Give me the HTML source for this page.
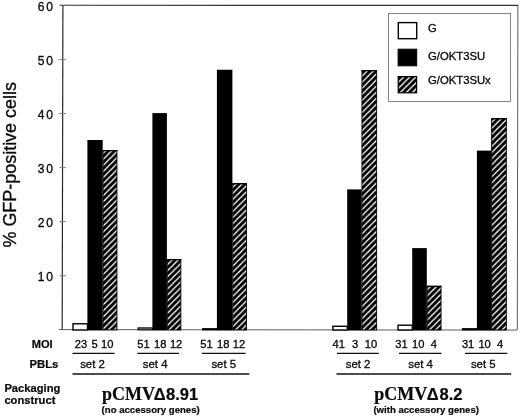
<!DOCTYPE html>
<html><head><meta charset="utf-8"><title>GFP-positive cells</title>
<style>
html,body{margin:0;padding:0;background:#fff;}
svg{display:block;will-change:transform;}
text{font-family:"Liberation Sans",sans-serif;fill:#0a0a0a;}
.b{font-weight:bold;stroke:#0a0a0a;stroke-width:0.22px;}
.ser{font-family:"Liberation Serif",serif;font-weight:bold;stroke:#0a0a0a;stroke-width:0.2px;}
</style></head><body>
<svg width="520" height="417" viewBox="0 0 520 417">
<defs>
<pattern id="h" patternUnits="userSpaceOnUse" width="6.06" height="6.06" patternTransform="translate(1.9 0)">
<rect width="6.06" height="6.06" fill="#000"/>
<path d="M-1,7.06 L7.06,-1 M-1,1 L1,-1 M5.06,7.06 L7.06,5.06" stroke="#fff" stroke-width="1.35"/>
</pattern>
</defs>
<rect width="520" height="417" fill="#fff"/>

<path d="M62.2,329.90 L62.9,5.30" fill="none" stroke="#2a2a2a" stroke-width="1.2"/>
<path d="M58.8,329.60 L517.3,330.10" fill="none" stroke="#555" stroke-width="0.95"/>
<path d="M59.5,5.30 L518.3,5.40" fill="none" stroke="#333" stroke-width="1.1"/>
<path d="M517.9,5.30 L517.3,329.90" fill="none" stroke="#5a5a5a" stroke-width="1"/>
<path d="M59.3,275.80 H66" stroke="#777" stroke-width="0.9"/>
<path d="M59.3,221.70 H66" stroke="#777" stroke-width="0.9"/>
<path d="M59.3,167.60 H66" stroke="#777" stroke-width="0.9"/>
<path d="M59.3,113.50 H66" stroke="#777" stroke-width="0.9"/>
<path d="M59.3,59.40 H66" stroke="#777" stroke-width="0.9"/>
<text x="54.9" y="281.10" font-size="12.1" letter-spacing="1.8" text-anchor="end" stroke="#0a0a0a" stroke-width="0.32">10</text>
<text x="54.9" y="227.00" font-size="12.1" letter-spacing="1.8" text-anchor="end" stroke="#0a0a0a" stroke-width="0.32">20</text>
<text x="54.9" y="172.90" font-size="12.1" letter-spacing="1.8" text-anchor="end" stroke="#0a0a0a" stroke-width="0.32">30</text>
<text x="54.9" y="118.80" font-size="12.1" letter-spacing="1.8" text-anchor="end" stroke="#0a0a0a" stroke-width="0.32">40</text>
<text x="54.9" y="64.70" font-size="12.1" letter-spacing="1.8" text-anchor="end" stroke="#0a0a0a" stroke-width="0.32">50</text>
<text x="54.9" y="10.60" font-size="12.1" letter-spacing="1.8" text-anchor="end" stroke="#0a0a0a" stroke-width="0.32">60</text>
<text transform="translate(16,164.8) rotate(-90)" font-size="17.95" text-anchor="middle" stroke="#0a0a0a" stroke-width="0.32">% GFP-positive cells</text>
<rect x="73.00" y="323.80" width="14.50" height="6.20" fill="#fff" stroke="#000" stroke-width="1.4"/>
<rect x="87.40" y="140.00" width="15.30" height="190.40" fill="#000"/>
<rect x="103.05" y="150.60" width="13.90" height="179.35" fill="url(#h)" stroke="#000" stroke-width="0.9"/>
<path d="M102.60,150.60 H117.40" stroke="#000" stroke-width="1.2"/>
<text x="81.05" y="347.6" font-size="11.15" text-anchor="middle" stroke="#0a0a0a" stroke-width="0.32">23</text>
<text x="94.60" y="347.6" font-size="11.15" text-anchor="middle" stroke="#0a0a0a" stroke-width="0.32">5</text>
<text x="107.30" y="347.6" font-size="11.15" text-anchor="middle" stroke="#0a0a0a" stroke-width="0.32">10</text>
<path d="M72.50,353.4 H114.50" stroke="#111" stroke-width="1.4"/>
<text x="92.50" y="367.5" font-size="11.4" text-anchor="middle" stroke="#0a0a0a" stroke-width="0.32">set 2</text>
<rect x="138.10" y="327.90" width="14.40" height="1.90" fill="#999" stroke="#111" stroke-width="1.2"/>
<rect x="152.40" y="113.10" width="14.50" height="217.30" fill="#000"/>
<rect x="167.25" y="259.60" width="13.60" height="70.35" fill="url(#h)" stroke="#000" stroke-width="0.9"/>
<path d="M166.80,259.60 H181.30" stroke="#000" stroke-width="1.2"/>
<text x="143.55" y="347.6" font-size="11.15" text-anchor="middle" stroke="#0a0a0a" stroke-width="0.32">51</text>
<text x="160.30" y="347.6" font-size="11.15" text-anchor="middle" stroke="#0a0a0a" stroke-width="0.32">18</text>
<text x="176.10" y="347.6" font-size="11.15" text-anchor="middle" stroke="#0a0a0a" stroke-width="0.32">12</text>
<path d="M137.30,353.4 H179.00" stroke="#111" stroke-width="1.4"/>
<text x="155.20" y="367.5" font-size="11.4" text-anchor="middle" stroke="#0a0a0a" stroke-width="0.32">set 4</text>
<rect x="202.00" y="328.10" width="15.00" height="2.30" fill="#000"/>
<rect x="216.90" y="69.75" width="15.50" height="260.65" fill="#000"/>
<rect x="232.75" y="183.70" width="13.70" height="146.25" fill="url(#h)" stroke="#000" stroke-width="0.9"/>
<path d="M232.30,183.70 H246.90" stroke="#000" stroke-width="1.2"/>
<text x="206.45" y="347.6" font-size="11.15" text-anchor="middle" stroke="#0a0a0a" stroke-width="0.32">51</text>
<text x="223.30" y="347.6" font-size="11.15" text-anchor="middle" stroke="#0a0a0a" stroke-width="0.32">18</text>
<text x="239.05" y="347.6" font-size="11.15" text-anchor="middle" stroke="#0a0a0a" stroke-width="0.32">12</text>
<path d="M201.90,353.4 H245.60" stroke="#111" stroke-width="1.4"/>
<text x="223.75" y="367.5" font-size="11.4" text-anchor="middle" stroke="#0a0a0a" stroke-width="0.32">set 5</text>
<rect x="332.90" y="326.30" width="14.40" height="3.70" fill="#fff" stroke="#000" stroke-width="1.4"/>
<rect x="347.20" y="189.40" width="14.40" height="141.00" fill="#000"/>
<rect x="361.95" y="70.60" width="14.70" height="259.35" fill="url(#h)" stroke="#000" stroke-width="0.9"/>
<path d="M361.50,70.60 H377.10" stroke="#000" stroke-width="1.2"/>
<text x="338.75" y="347.6" font-size="11.15" text-anchor="middle" stroke="#0a0a0a" stroke-width="0.32">41</text>
<text x="355.00" y="347.6" font-size="11.15" text-anchor="middle" stroke="#0a0a0a" stroke-width="0.32">3</text>
<text x="370.90" y="347.6" font-size="11.15" text-anchor="middle" stroke="#0a0a0a" stroke-width="0.32">10</text>
<path d="M336.90,353.4 H378.80" stroke="#111" stroke-width="1.4"/>
<text x="358.10" y="367.5" font-size="11.4" text-anchor="middle" stroke="#0a0a0a" stroke-width="0.32">set 2</text>
<rect x="398.00" y="325.20" width="14.30" height="4.80" fill="#fff" stroke="#000" stroke-width="1.4"/>
<rect x="412.20" y="248.10" width="14.60" height="82.30" fill="#000"/>
<rect x="427.15" y="286.30" width="13.90" height="43.65" fill="url(#h)" stroke="#000" stroke-width="0.9"/>
<path d="M426.70,286.30 H441.50" stroke="#000" stroke-width="1.2"/>
<text x="401.45" y="347.6" font-size="11.15" text-anchor="middle" stroke="#0a0a0a" stroke-width="0.32">31</text>
<text x="418.20" y="347.6" font-size="11.15" text-anchor="middle" stroke="#0a0a0a" stroke-width="0.32">10</text>
<text x="433.75" y="347.6" font-size="11.15" text-anchor="middle" stroke="#0a0a0a" stroke-width="0.32">4</text>
<path d="M399.00,353.4 H441.50" stroke="#111" stroke-width="1.4"/>
<text x="420.60" y="367.5" font-size="11.4" text-anchor="middle" stroke="#0a0a0a" stroke-width="0.32">set 4</text>
<rect x="461.90" y="328.10" width="15.10" height="2.30" fill="#000"/>
<rect x="476.90" y="150.60" width="14.40" height="179.80" fill="#000"/>
<rect x="491.65" y="118.70" width="14.70" height="211.25" fill="url(#h)" stroke="#000" stroke-width="0.9"/>
<path d="M491.20,118.70 H506.80" stroke="#000" stroke-width="1.2"/>
<text x="468.10" y="347.6" font-size="11.15" text-anchor="middle" stroke="#0a0a0a" stroke-width="0.32">31</text>
<text x="484.60" y="347.6" font-size="11.15" text-anchor="middle" stroke="#0a0a0a" stroke-width="0.32">10</text>
<text x="500.10" y="347.6" font-size="11.15" text-anchor="middle" stroke="#0a0a0a" stroke-width="0.32">4</text>
<path d="M465.00,353.4 H507.30" stroke="#111" stroke-width="1.4"/>
<text x="483.25" y="367.5" font-size="11.4" text-anchor="middle" stroke="#0a0a0a" stroke-width="0.32">set 5</text>
<path d="M72.5,374 H249.4" stroke="#111" stroke-width="1.3"/>
<path d="M336.5,374 H511.2" stroke="#111" stroke-width="1.3"/>
<text class="b" x="31.7" y="347.8" font-size="11.1">MOI</text>
<text class="b" x="29.5" y="368.1" font-size="11.25">PBLs</text>
<text class="b" x="4.4" y="392.3" font-size="11.2">Packaging</text>
<text class="b" x="4.4" y="403.8" font-size="11.2">construct</text>
<text class="ser" x="102.00" y="399.75" font-size="18">pCMV</text>
<text class="b" x="153.80" y="399.75" font-size="16.5">Δ</text>
<text class="b" x="166.00" y="399.75" font-size="16.5">8.91</text>
<text class="b" x="101.60" y="412.7" font-size="9.6">(no accessory genes)</text>
<text class="ser" x="374.20" y="399.75" font-size="18">pCMV</text>
<text class="b" x="426.80" y="399.75" font-size="16.5">Δ</text>
<text class="b" x="439.60" y="399.75" font-size="16.5">8.2</text>
<text class="b" x="373.40" y="412.7" font-size="9.6">(with accessory genes)</text>
<rect x="388.5" y="13.5" width="122" height="88" fill="#fff" stroke="#666" stroke-width="0.8"/>
<rect x="398.3" y="22.6" width="18.4" height="16.1" fill="#fff" stroke="#000" stroke-width="1.4"/>
<rect x="398.1" y="49.2" width="18.6" height="16.6" fill="#000" stroke="#000" stroke-width="1"/>
<rect x="398.2" y="76.6" width="18.4" height="16.2" fill="url(#h)" stroke="#000" stroke-width="1.2"/>
<text x="428" y="31.6" font-size="11.2" stroke="#0a0a0a" stroke-width="0.32">G</text>
<text x="428" y="60" font-size="11.3" stroke="#0a0a0a" stroke-width="0.32">G/OKT3SU</text>
<text x="428" y="84" font-size="11.3" stroke="#0a0a0a" stroke-width="0.32">G/OKT3SUx</text>
</svg></body></html>
